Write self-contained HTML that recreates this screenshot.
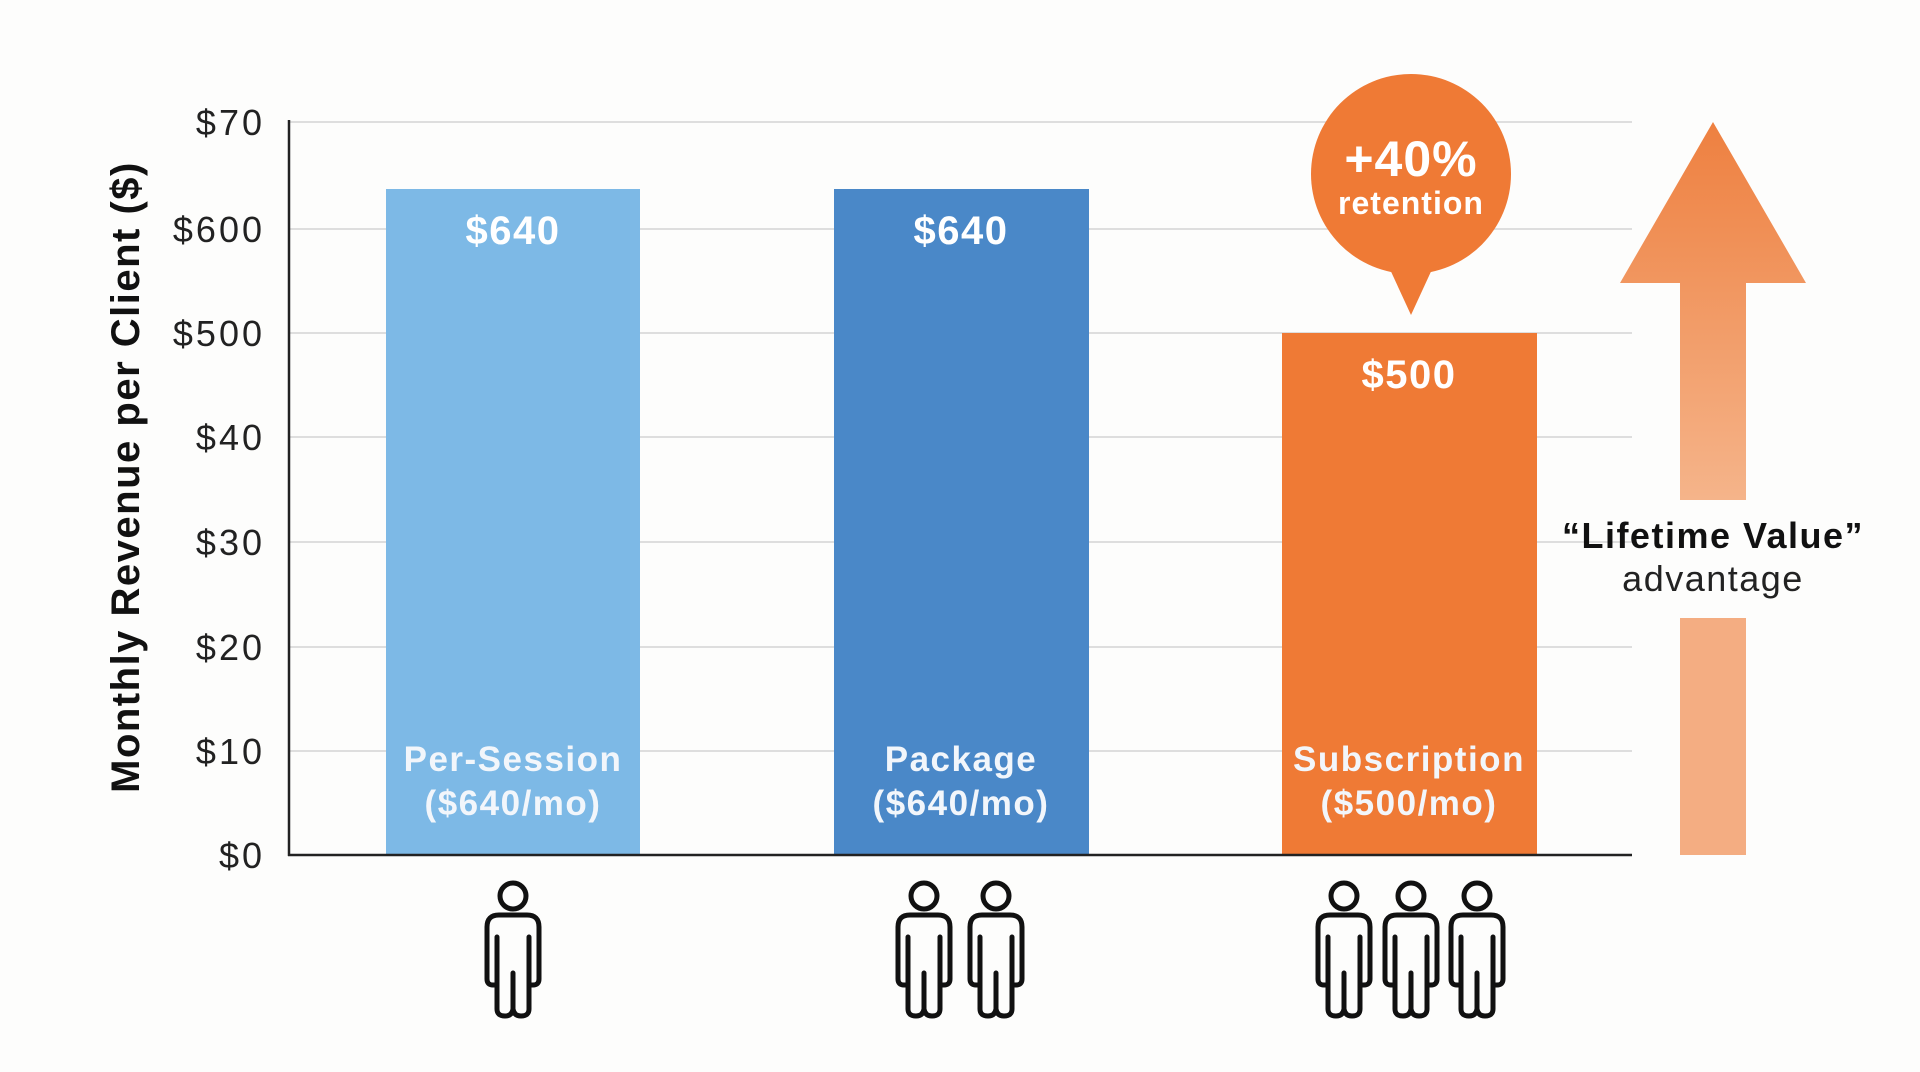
<!DOCTYPE html>
<html><head><meta charset="utf-8"><style>
html,body{margin:0;padding:0;background:#fdfdfc;}
svg{display:block;}
text{font-family:"Liberation Sans",sans-serif;}
</style></head><body>
<svg width="1920" height="1072" viewBox="0 0 1920 1072" xmlns="http://www.w3.org/2000/svg">
<defs>
<linearGradient id="ag" x1="0" y1="0" x2="0" y2="1">
<stop offset="0" stop-color="#ee8040"/><stop offset="1" stop-color="#f5b48a"/>
</linearGradient>
<g id="person" fill="none" stroke="#111" stroke-width="5" stroke-linejoin="round" stroke-linecap="round">
<circle cx="0" cy="15" r="13"/>
<path d="M-14,34 H14 Q26,34 26,46 V98 Q26,104 20,104 H16 V128 Q16,135 8,135 Q1,135 0,128 Q-1,135 -8,135 Q-16,135 -16,128 V104 H-20 Q-26,104 -26,98 V46 Q-26,34 -14,34 Z"/>
<path d="M16,56 V104 M-16,56 V104 M0,92 V128"/>
</g>
</defs>
<rect width="1920" height="1072" fill="#fdfdfc"/>
<g stroke="#d4d4d4" stroke-width="1.5">
<line x1="289" y1="122" x2="1632" y2="122"/>
<line x1="289" y1="229" x2="1632" y2="229"/>
<line x1="289" y1="333" x2="1632" y2="333"/>
<line x1="289" y1="437" x2="1632" y2="437"/>
<line x1="289" y1="542" x2="1632" y2="542"/>
<line x1="289" y1="647" x2="1632" y2="647"/>
<line x1="289" y1="751" x2="1632" y2="751"/>
</g>
<g font-size="36" fill="#222" text-anchor="end" letter-spacing="3">
<text x="265" y="135">$70</text>
<text x="265" y="242">$600</text>
<text x="265" y="346">$500</text>
<text x="265" y="450">$40</text>
<text x="265" y="555">$30</text>
<text x="265" y="660">$20</text>
<text x="265" y="764">$10</text>
<text x="265" y="868">$0</text>
</g>
<text transform="translate(139,477) rotate(-90)" text-anchor="middle" font-size="40" font-weight="bold" fill="#111" letter-spacing="1.5">Monthly Revenue per Client ($)</text>
<rect x="386" y="189" width="254" height="666" fill="#7db9e6"/>
<rect x="834" y="189" width="255" height="666" fill="#4a88c8"/>
<rect x="1282" y="333" width="255" height="522" fill="#ef7a35"/>
<line x1="289" y1="120" x2="289" y2="856" stroke="#222" stroke-width="2.5"/>
<line x1="288" y1="855" x2="1632" y2="855" stroke="#222" stroke-width="2.5"/>
<g fill="#fff" font-weight="bold" text-anchor="middle" letter-spacing="1.5">
<text x="513" y="244" font-size="40">$640</text>
<text x="961" y="244" font-size="40">$640</text>
<text x="1409" y="388" font-size="40">$500</text>
<g font-size="35" fill="#f2f6fb">
<text x="513" y="771">Per-Session</text><text x="513" y="815">($640/mo)</text>
<text x="961" y="771">Package</text><text x="961" y="815">($640/mo)</text>
<text x="1409" y="771">Subscription</text><text x="1409" y="815">($500/mo)</text>
</g>
</g>
<circle cx="1411" cy="174" r="100" fill="#ef7a35"/>
<path d="M1388,265 L1434,265 L1411,315 Z" fill="#ef7a35"/>
<text x="1411" y="176" text-anchor="middle" font-size="50" font-weight="bold" fill="#fff" letter-spacing="1">+40%</text>
<text x="1411" y="214" text-anchor="middle" font-size="32" font-weight="bold" fill="#fff" letter-spacing="1">retention</text>
<path d="M1713,122 L1806,283 L1746,283 L1746,500 L1680,500 L1680,283 L1620,283 Z" fill="url(#ag)"/>
<rect x="1680" y="618" width="66" height="237" fill="#f4ad82"/>
<text x="1713" y="548" text-anchor="middle" font-size="36" font-weight="bold" fill="#111" letter-spacing="1.5">“Lifetime Value”</text>
<text x="1713" y="591" text-anchor="middle" font-size="36" fill="#222" letter-spacing="1.5">advantage</text>
<use href="#person" x="513" y="881"/>
<use href="#person" x="924" y="881"/>
<use href="#person" x="996" y="881"/>
<use href="#person" x="1344" y="881"/>
<use href="#person" x="1411" y="881"/>
<use href="#person" x="1477" y="881"/>
</svg>
</body></html>
